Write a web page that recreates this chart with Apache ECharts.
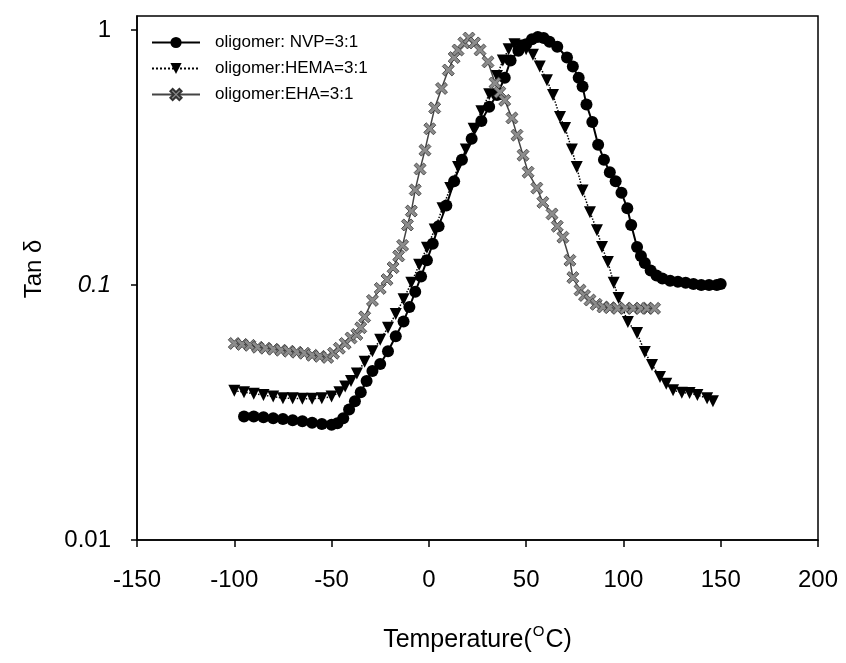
<!DOCTYPE html>
<html>
<head>
<meta charset="utf-8">
<script src="https://cdn.jsdelivr.net/npm/echarts@6/dist/echarts.min.js"></script>
<style>
html,body{margin:0;padding:0;background:#fff;}
#chart{width:846px;height:663px;}
</style>
</head>
<body>
<div id="chart"></div>
<script>
// ---- data ----
var seriesNames = ['oligomer: NVP=3:1', 'oligomer:HEMA=3:1', 'oligomer:EHA=3:1'];

var nvpT = [-95,-90,-85,-80,-75,-70,-65,-60,-55,-50,-47,-44,-41,-38,-35,-32,-29,-25,-21,-17,-13,-10,-7,-4,-1,2,5,9,13,17,22,27,31,35,39,42,46,50,53,56,59,62,66,71,74,77,79,81,84,87,90,93,96,99,102,104,107,109,111,114,117,120,124,128,132,136,140,144,148,150];
var nvpV = [0.0305,0.0305,0.0303,0.030,0.0298,0.0295,0.0292,0.0288,0.0285,0.0283,0.0287,0.030,0.0325,0.035,0.038,0.042,0.046,0.049,0.055,0.063,0.072,0.082,0.094,0.108,0.125,0.145,0.17,0.205,0.255,0.31,0.375,0.44,0.50,0.556,0.65,0.76,0.83,0.88,0.92,0.94,0.93,0.90,0.86,0.78,0.72,0.65,0.60,0.51,0.436,0.355,0.31,0.277,0.255,0.23,0.20,0.172,0.141,0.13,0.122,0.114,0.109,0.106,0.104,0.103,0.102,0.101,0.100,0.100,0.100,0.101];

var hemaT = [-100,-95,-90,-85,-80,-75,-70,-65,-60,-55,-50,-46,-43,-40,-37,-33,-29,-25,-21,-17,-13,-9,-5,-1,3,7,11,15,19,23,27,31,35,38,41,44,47,50,53.5,57,60.7,63.8,67.4,70,73.5,76,79,82.8,86.4,89,92,95,97.5,102.3,107,111,114.7,118.8,122,125.5,130,134,138,143,146];
var hemaV = [0.0385,0.038,0.0375,0.037,0.0365,0.036,0.036,0.0358,0.0358,0.036,0.0365,0.038,0.040,0.042,0.045,0.050,0.055,0.061,0.068,0.077,0.088,0.102,0.12,0.14,0.165,0.20,0.24,0.29,0.34,0.41,0.48,0.56,0.66,0.76,0.84,0.88,0.87,0.84,0.80,0.72,0.636,0.556,0.456,0.413,0.34,0.29,0.235,0.193,0.164,0.141,0.123,0.102,0.089,0.0716,0.0648,0.0546,0.0486,0.0436,0.041,0.0387,0.0378,0.0377,0.037,0.036,0.035];

var ehaT = [-100,-96,-92,-88,-84,-80,-76,-72,-68,-64,-60,-56,-52,-49,-46,-43,-40,-37,-35,-33,-29,-25,-21.5,-18.4,-15.5,-13.5,-11,-9,-7,-4.5,-2,0.5,3,6.5,10,13,15,18,20.6,23.5,26.3,30.4,34,36.5,39,42.7,45.3,48.4,51,55.5,58.6,63.3,66,68.9,72.5,74,77.7,80,82.8,86,89.5,93,97,101,105,109,112,116];
var ehaV = [0.059,0.0585,0.058,0.057,0.0565,0.056,0.0555,0.055,0.0545,0.054,0.053,0.0525,0.052,0.054,0.0565,0.059,0.062,0.064,0.068,0.075,0.087,0.097,0.105,0.117,0.13,0.143,0.172,0.195,0.236,0.285,0.338,0.41,0.495,0.59,0.697,0.78,0.835,0.89,0.93,0.89,0.835,0.75,0.62,0.57,0.53,0.452,0.387,0.323,0.277,0.24,0.211,0.19,0.17,0.154,0.125,0.107,0.0955,0.091,0.0873,0.084,0.082,0.0815,0.081,0.081,0.081,0.081,0.081,0.081];

var xTicks = {min: -150, max: 200, interval: 50};
var yRange = {min: 0.01, max: 1.135};

function zip(a, b) { return a.map(function (t, i) { return [t, b[i]]; }); }

var FONT = '"Liberation Sans", Arial, sans-serif';
var xPath = 'path://M0,2 L2,0 L5,3 L8,0 L10,2 L7,5 L10,8 L8,10 L5,7 L2,10 L0,8 L3,5 Z';

var chart = echarts.init(document.getElementById('chart'), null, {renderer: 'canvas'});
chart.setOption({
  backgroundColor: '#fff',
  animation: false,
  textStyle: {fontFamily: FONT, color: '#000'},
  grid: {left: 137, right: 28, top: 16, bottom: 123, show: true, borderColor: '#000', borderWidth: 1.5},
  legend: {
    orient: 'vertical', left: 146, top: 29, itemWidth: 48, itemHeight: 14, itemGap: 9,
    textStyle: {fontSize: 17, color: '#000', fontFamily: FONT, padding: [0, 0, 0, 10]},
    data: seriesNames
  },
  xAxis: {
    type: 'value', min: xTicks.min, max: xTicks.max, interval: xTicks.interval,
    axisLine: {show: true, onZero: false, lineStyle: {color: '#000', width: 1.5}},
    axisTick: {show: true, length: 7, lineStyle: {color: '#000', width: 1.5}},
    axisLabel: {fontSize: 24, color: '#000', margin: 28, fontFamily: FONT},
    splitLine: {show: false},
    name: '{t|Temperature(}{s|O}{t|C)}', nameLocation: 'middle', nameGap: 84,
    nameTextStyle: {rich: {t: {fontSize: 25, color: '#000', fontFamily: FONT, verticalAlign: 'bottom'}, s: {fontSize: 15, color: '#000', fontFamily: FONT, verticalAlign: 'top', padding: [0, 1, 14, 1]}}}
  },
  yAxis: {
    type: 'log', logBase: 10, min: yRange.min, max: yRange.max,
    axisLine: {show: true, onZero: false, lineStyle: {color: '#000', width: 1.5}},
    axisTick: {show: true, length: 6, lineStyle: {color: '#000', width: 1.5}},
    axisLabel: {
      fontSize: 24, color: '#000', margin: 26, fontFamily: FONT, showMaxLabel: false,
      formatter: function (v) {
        var l = Math.log10(v);
        if (Math.abs(l + 1) < 1e-6) return '{i|0.1}';
        if (Math.abs(l) < 1e-6) return '1';
        if (Math.abs(l + 2) < 1e-6) return '0.01';
        return '';
      },
      rich: {i: {fontStyle: 'italic', fontSize: 24, color: '#000', fontFamily: FONT}}
    },
    splitLine: {show: false},
    minorTick: {show: false},
    name: 'Tan δ', nameLocation: 'middle', nameGap: 91, nameRotate: 90,
    nameTextStyle: {fontSize: 24, color: '#000', fontFamily: FONT, padding: [0, 0, 0, 18]}
  },
  series: [
    {
      name: seriesNames[0], type: 'line', data: zip(nvpT, nvpV),
      symbol: 'circle', symbolSize: 12, showAllSymbol: true,
      lineStyle: {color: '#000', width: 2},
      itemStyle: {color: '#000', borderWidth: 0}
    },
    {
      name: seriesNames[1], type: 'line', data: zip(hemaT, hemaV),
      symbol: 'triangle', symbolRotate: 180, symbolSize: 12, showAllSymbol: true,
      lineStyle: {color: '#000', width: 1.5, type: 'dotted'},
      itemStyle: {color: '#000', borderWidth: 0}
    },
    {
      name: seriesNames[2], type: 'line', data: zip(ehaT, ehaV),
      symbol: xPath, symbolSize: 12, showAllSymbol: true,
      lineStyle: {color: '#444', width: 1.5},
      itemStyle: {color: '#8c8c8c', borderColor: '#333', borderWidth: 0.8}
    }
  ]
});
</script>
</body>
</html>
